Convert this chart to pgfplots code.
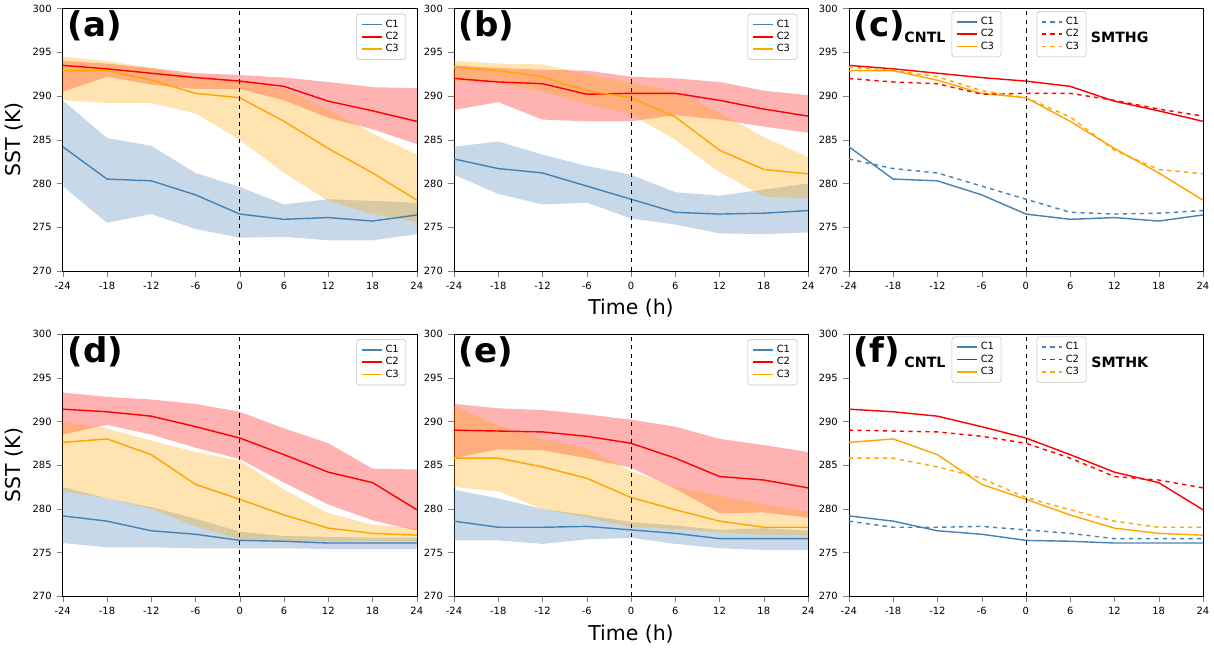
\documentclass[border=0pt]{standalone}
\usepackage{pgfplots}
\pgfplotsset{compat=1.18}
\usepackage{pgfplotstable}
\usepgfplotslibrary{fillbetween}
\usepackage{fontspec}
\setmainfont{DejaVu Sans}
\definecolor{cb}{HTML}{4682B4}
\definecolor{cr}{HTML}{FF0000}
\definecolor{co}{HTML}{FFA500}
% t m lo hi
\pgfplotstableread{
t m lo hi
-24 284.2 279.7 289.5
-18 280.5 275.5 285.2
-12 280.3 276.5 284.3
-6 278.7 274.8 281.2
0 276.5 273.8 279.6
6 275.9 273.9 277.6
12 276.1 273.5 278.2
18 275.7 273.5 278.0
24 276.4 274.2 277.8
}\aA
\pgfplotstableread{
t m lo hi
-24 293.5 290.5 294.0
-18 293.1 292.2 293.7
-12 292.6 291.3 293.2
-6 292.1 290.8 292.6
0 291.7 290.8 292.4
6 291.1 289.5 292.1
12 289.4 287.5 291.6
18 288.3 286.2 291.0
24 287.1 284.5 290.9
}\aB
\pgfplotstableread{
t m lo hi
-24 292.9 289.5 294.5
-18 292.9 289.2 294.0
-12 291.8 289.2 293.2
-6 290.3 288.0 292.2
0 289.8 285.0 291.8
6 287.1 281.2 290.8
12 284.0 278.0 288.5
18 281.2 276.5 285.7
24 278.1 275.6 283.3
}\aC
\pgfplotstableread{
t m lo hi
-24 282.8 281.0 284.2
-18 281.7 278.8 284.8
-12 281.2 277.6 283.3
-6 279.7 277.8 282.0
0 278.2 276.0 281.0
6 276.7 275.3 279.0
12 276.5 274.3 278.6
18 276.6 274.2 279.3
24 276.9 274.4 280.0
}\bA
\pgfplotstableread{
t m lo hi
-24 292.0 288.4 293.5
-18 291.6 289.3 293.2
-12 291.4 287.3 293.0
-6 290.2 287.1 292.9
0 290.3 287.1 292.2
6 290.3 287.8 292.0
12 289.5 287.3 291.6
18 288.5 286.5 290.6
24 287.7 285.8 290.1
}\bB
\pgfplotstableread{
t m lo hi
-24 293.3 291.7 294.0
-18 292.9 291.5 293.7
-12 292.2 290.5 293.6
-6 290.6 289.1 292.5
0 289.8 287.9 291.5
6 287.6 285.0 290.5
12 283.8 281.3 288.1
18 281.6 278.5 285.3
24 281.1 278.3 283.0
}\bC
\pgfplotstableread{
t m lo hi
-24 279.2 276.1 282.5
-18 278.6 275.6 281.2
-12 277.5 275.6 280.2
-6 277.1 275.5 278.9
0 276.4 275.5 277.4
6 276.3 275.5 276.9
12 276.1 275.4 276.8
18 276.1 275.4 276.7
24 276.1 275.4 276.7
}\dA
\pgfplotstableread{
t m lo hi
-24 291.4 288.5 293.3
-18 291.1 289.6 292.8
-12 290.6 288.5 292.5
-6 289.4 287.0 292.0
0 288.1 285.7 291.1
6 286.2 283.0 289.2
12 284.2 280.5 287.5
18 283.0 278.7 284.6
24 279.9 277.5 284.5
}\dB
\pgfplotstableread{
t m lo hi
-24 287.6 282.0 290.0
-18 288.0 281.2 289.2
-12 286.2 280.0 287.8
-6 282.8 278.0 286.5
0 281.1 276.5 285.5
6 279.3 276.3 282.2
12 277.8 276.3 279.5
18 277.2 276.3 278.2
24 277.0 276.3 277.8
}\dC
\pgfplotstableread{
t m lo hi
-24 278.6 276.4 282.2
-18 277.9 276.4 281.2
-12 277.9 276.0 280.0
-6 278.0 276.5 279.3
0 277.6 276.7 278.5
6 277.2 276.0 278.1
12 276.6 275.5 277.6
18 276.6 275.3 277.8
24 276.6 275.3 277.5
}\eA
\pgfplotstableread{
t m lo hi
-24 289.0 285.8 292.0
-18 288.9 286.8 291.5
-12 288.8 286.7 291.3
-6 288.3 285.8 290.8
0 287.5 284.7 290.2
6 285.8 282.3 289.4
12 283.7 279.5 288.0
18 283.3 279.6 287.3
24 282.4 279.0 286.5
}\eB
\pgfplotstableread{
t m lo hi
-24 285.8 282.5 291.8
-18 285.8 282.0 289.5
-12 284.8 280.0 288.0
-6 283.5 279.0 286.9
0 281.3 277.9 284.3
6 279.9 277.7 282.5
12 278.6 277.3 281.5
18 277.9 277.0 280.5
24 277.9 277.0 279.7
}\eC
\pgfplotsset{
 pan/.style={width=8.77cm,height=6.5cm,scale only axis,
  xmin=-24,xmax=24,ymin=270,ymax=300,
  xtick={-24,-18,...,24},ytick={270,275,...,300},
  tick align=outside,xtick pos=bottom,ytick pos=left,
  tick label style={font=\scriptsize},
  /pgf/number format/assume math mode=true,
  legend style={font=\scriptsize,draw=black!25,rounded corners=2pt,
    at={(rel axis cs:0.97,0.98)},anchor=north east,row sep=-2pt},
  legend image code/.code={\draw[#1,line width=1.2pt](0cm,0cm)--(0.5cm,0cm);},
  legend cell align=left, legend entries={C1,C2,C3}},
 ov/.style={pan,axis lines=none,ticks=none}}
\newcommand{\band}[3]{%
 \addplot[name path=hi#3,draw=none,forget plot] table[x=t,y=hi]{#1};
 \addplot[name path=lo#3,draw=none,forget plot] table[x=t,y=lo]{#1};
 \addplot[#2,fill opacity=0.3,draw=none,forget plot] fill between[of=hi#3 and lo#3];}
\newcommand{\lin}[3]{\addplot[#2,line width=1pt,#3,forget plot] table[x=t,y=m]{#1};}
\newcommand{\leg}[1]{\addlegendimage{cb,#1}\addlegendimage{cr,#1}\addlegendimage{co,#1}}
\newcommand{\vl}{\addplot[black,dashed,forget plot] coordinates {(0,270) (0,300)};}
\newcommand{\lab}[1]{\node[anchor=north west,font=\bfseries\fontsize{24}{24}\selectfont] at (rel axis cs:0.0,1.01) {#1};}
\begin{document}
\begin{tikzpicture}
% (a)
\begin{axis}[pan,at={(0cm,8.06cm)},ylabel={SST (K)},ylabel style={font=\Large}]
\leg{}
\band{\aA}{cb}{a}\band{\aB}{cr}{b}\band{\aC}{co}{c}
\lin{\aA}{cb}{}\lin{\aB}{cr}{}\lin{\aC}{co}{}
\vl\lab{(a)}
\end{axis}
% (b)
\begin{axis}[pan,at={(9.69cm,8.06cm)},xlabel={Time (h)},xlabel style={font=\Large}]
\leg{}
\band{\bA}{cb}{a}\band{\bB}{cr}{b}\band{\bC}{co}{c}
\lin{\bA}{cb}{}\lin{\bB}{cr}{}\lin{\bC}{co}{}
\vl\lab{(b)}
\end{axis}
% (c)
\begin{axis}[pan,at={(19.47cm,8.06cm)},legend style={at={(rel axis cs:0.29,0.99)},anchor=north west}]
\leg{}
\lin{\aA}{cb}{}\lin{\aB}{cr}{}\lin{\aC}{co}{}
\vl\lab{(c)}
\node[font=\bfseries\normalsize] at (rel axis cs:0.215,0.89) {CNTL};
\node[font=\bfseries\normalsize] at (rel axis cs:0.765,0.89) {SMTHG};
\end{axis}
\begin{axis}[ov,at={(19.47cm,8.06cm)},legend style={at={(rel axis cs:0.53,0.99)},anchor=north west}]
\leg{dashed}
\lin{\bA}{cb}{dashed}\lin{\bB}{cr}{dashed}\lin{\bC}{co}{dashed}
\end{axis}
% (d)
\begin{axis}[pan,at={(0cm,0cm)},ylabel={SST (K)},ylabel style={font=\Large}]
\leg{}
\band{\dA}{cb}{a}\band{\dB}{cr}{b}\band{\dC}{co}{c}
\lin{\dA}{cb}{}\lin{\dB}{cr}{}\lin{\dC}{co}{}
\vl\lab{(d)}
\end{axis}
% (e)
\begin{axis}[pan,at={(9.69cm,0cm)},xlabel={Time (h)},xlabel style={font=\Large}]
\leg{}
\band{\eA}{cb}{a}\band{\eB}{cr}{b}\band{\eC}{co}{c}
\lin{\eA}{cb}{}\lin{\eB}{cr}{}\lin{\eC}{co}{}
\vl\lab{(e)}
\end{axis}
% (f)
\begin{axis}[pan,at={(19.47cm,0cm)},legend style={at={(rel axis cs:0.29,0.99)},anchor=north west}]
\leg{}
\lin{\dA}{cb}{}\lin{\dB}{cr}{}\lin{\dC}{co}{}
\vl\lab{(f)}
\node[font=\bfseries\normalsize] at (rel axis cs:0.215,0.89) {CNTL};
\node[font=\bfseries\normalsize] at (rel axis cs:0.765,0.89) {SMTHK};
\end{axis}
\begin{axis}[ov,at={(19.47cm,0cm)},legend style={at={(rel axis cs:0.53,0.99)},anchor=north west}]
\leg{dashed}
\lin{\eA}{cb}{dashed}\lin{\eB}{cr}{dashed}\lin{\eC}{co}{dashed}
\end{axis}
\end{tikzpicture}
\end{document}
